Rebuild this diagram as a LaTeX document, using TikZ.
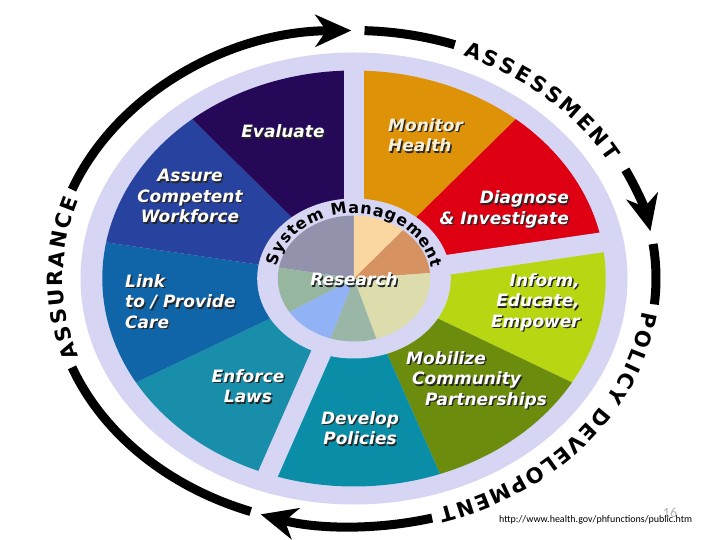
\documentclass[tikz,border=0pt]{standalone}
\usepackage{fontspec}
\setmainfont{DejaVu Sans}
\newfontfamily\urlfont{Carlito}
\usetikzlibrary{arrows.meta,decorations.text}

\definecolor{lavender}{RGB}{214,214,244}
\definecolor{evalc}{RGB}{38,8,88}
\definecolor{monitorc}{RGB}{222,146,8}
\definecolor{diagnosec}{RGB}{222,0,18}
\definecolor{informc}{RGB}{184,214,18}
\definecolor{mobilizec}{RGB}{108,140,14}
\definecolor{developc}{RGB}{10,142,168}
\definecolor{enforcec}{RGB}{24,142,170}
\definecolor{linkc}{RGB}{16,100,168}
\definecolor{assurec}{RGB}{40,66,160}
\definecolor{monitortext}{RGB}{250,240,215}
\definecolor{piepurple}{RGB}{146,146,172}
\definecolor{piepeach}{RGB}{250,214,160}
\definecolor{pieorange}{RGB}{214,146,96}
\definecolor{piecream}{RGB}{220,220,172}
\definecolor{piesage}{RGB}{154,182,166}
\definecolor{pieblue}{RGB}{146,178,246}
\definecolor{piesagetwo}{RGB}{150,182,160}

\newcommand{\shad}[1]{\makebox[0pt][l]{\kern1.4pt\raisebox{-1.4pt}{\textcolor{black!85}{#1}}}#1}
\newcommand{\ringsize}{\bfseries\fontsize{21}{21}\selectfont}
\newcommand{\hubsize}{\bfseries\fontsize{16}{16}\selectfont}

\begin{document}
\begin{tikzpicture}[x=1pt, y=1pt,
  wedgetext/.style={font=\fontsize{17}{20.5}\selectfont\bfseries\itshape, text=white, inner sep=0pt},
  gap/.style={lavender, line width=20pt},
  ring/.style={line width=9pt},
  ringarrow/.style={line width=9pt, -{Stealth[length=36pt, width=32pt, inset=11pt]}},
  ringtext/.style={decorate, decoration={text along path, text align={fit to path}, text={#1}}}]

\useasboundingbox [fill=white] (-354,-261.5) rectangle (366,278.5) ;

% wheel
\fill [lavender] (0,0) ellipse [x radius=273.5, y radius=226] ;

\fill [monitorc] (0,0) to (90:251.7 and 208) arc [start angle=90, end angle=50, x radius=251.7, y radius=208] to cycle ;
\fill [diagnosec] (0,0) to (50:251.7 and 208) arc [start angle=50, end angle=10, x radius=251.7, y radius=208] to cycle ;
\fill [informc] (0,0) to (10:251.7 and 208) arc [start angle=10, end angle=-30, x radius=251.7, y radius=208] to cycle ;
\fill [mobilizec] (0,0) to (-30:251.7 and 208) arc [start angle=-30, end angle=-70, x radius=251.7, y radius=208] to cycle ;
\fill [developc] (0,0) to (-70:251.7 and 208) arc [start angle=-70, end angle=-110, x radius=251.7, y radius=208] to cycle ;
\fill [enforcec] (0,0) to (250:251.7 and 208) arc [start angle=250, end angle=210, x radius=251.7, y radius=208] to cycle ;
\fill [linkc] (0,0) to (210:251.7 and 208) arc [start angle=210, end angle=170, x radius=251.7, y radius=208] to cycle ;
\fill [assurec] (0,0) to (170:251.7 and 208) arc [start angle=170, end angle=130, x radius=251.7, y radius=208] to cycle ;
\fill [evalc] (0,0) to (130:251.7 and 208) arc [start angle=130, end angle=90, x radius=251.7, y radius=208] to cycle ;

\draw [gap] (0,0) to (90:272 and 225) ;
\draw [gap] (0,0) to (10:272 and 225) ;
\draw [gap] (0,0) to (250:272 and 225) ;

% hub
\fill [lavender] (0,0) ellipse [x radius=96.8, y radius=80] ;

\fill [piepurple] (0,0) to (90:76.2 and 63) arc [start angle=90, end angle=170, x radius=76.2, y radius=63] to cycle ;
\fill [piepeach] (0,0) to (90:76.2 and 63) arc [start angle=90, end angle=50, x radius=76.2, y radius=63] to cycle ;
\fill [pieorange] (0,0) to (50:76.2 and 63) arc [start angle=50, end angle=5, x radius=76.2, y radius=63] to cycle ;
\fill [piecream] (0,0) to (5:76.2 and 63) arc [start angle=5, end angle=-73, x radius=76.2, y radius=63] to cycle ;
\fill [piesage] (0,0) to (-73:76.2 and 63) arc [start angle=-73, end angle=-108, x radius=76.2, y radius=63] to cycle ;
\fill [pieblue] (0,0) to (252:76.2 and 63) arc [start angle=252, end angle=212, x radius=76.2, y radius=63] to cycle ;
\fill [piesagetwo] (0,0) to (212:76.2 and 63) arc [start angle=212, end angle=170, x radius=76.2, y radius=63] to cycle ;

{\hubsize
\path [ringtext=System Management] (169:78.7 and 65) arc [start angle=169, end angle=9, x radius=78.7, y radius=65] ;
}

% outer cycle
\draw [ringarrow] (159:302 and 248) arc [start angle=159, end angle=90.5, x radius=302, y radius=248] ;
\draw [ring] (88:302 and 248) arc [start angle=88, end angle=70.5, x radius=302, y radius=248] ;
\draw [ringarrow] (26:302 and 248) arc [start angle=26, end angle=11, x radius=302, y radius=248] ;
\draw [ring] (8:302 and 248) arc [start angle=8, end angle=-6, x radius=302, y radius=248] ;
\draw [ringarrow] (-75:302 and 248) arc [start angle=-75, end angle=-108, x radius=302, y radius=248] ;
\draw [ring] (250:302 and 248) arc [start angle=250, end angle=201, x radius=302, y radius=248] ;

{\ringsize
\path [ringtext=ASSESSMENT] (68:291 and 240) arc [start angle=68, end angle=29, x radius=291, y radius=240] ;
\path [ringtext=POLICY DEVELOPMENT] (-8:291 and 240) arc [start angle=-8, end angle=-73, x radius=291, y radius=240] ;
\path [ringtext=ASSURANCE] (199:291 and 240) arc [start angle=199, end angle=161, x radius=291, y radius=240] ;
}

% labels
\node [wedgetext] (evaluate) at (-71,146.5) {\shad{Evaluate}} ;
\node [wedgetext, text=monitortext, anchor=west, align=left] (monitor) at (34,142.5) {\shad{Monitor}\\\shad{Health}} ;
\node [wedgetext, anchor=east, align=right] (diagnose) at (215,68.5) {\shad{Diagnose}\\\shad{\& Investigate}} ;
\node [wedgetext, anchor=east, align=right] (inform) at (226,-24.5) {\shad{Inform,}\\\shad{Educate,}\\\shad{Empower}} ;
\node [wedgetext, anchor=west, align=left] (mobilize) at (52,-102.5) {\shad{Mobilize}\\\hspace*{6pt}\shad{Community}\\\hspace*{19pt}\shad{Partnerships}} ;
\node [wedgetext, align=center] (develop) at (6,-150.5) {\shad{Develop}\\\shad{Policies}} ;
\node [wedgetext, align=center] (enforce) at (-106,-108.5) {\shad{Enforce}\\\shad{Laws}} ;
\node [wedgetext, anchor=west, align=left] (link) at (-229,-23.5) {\shad{Link}\\\shad{to / Provide}\\\shad{Care}} ;
\node [wedgetext, align=center] (assure) at (-164,81.5) {\shad{Assure}\\\shad{Competent}\\\shad{Workforce}} ;
\node [wedgetext] (research) at (0,-1.5) {\shad{Research}} ;

\node [font=\urlfont\fontsize{14}{14}\selectfont, text=black!30] (pagenum) at (316,-234.5) {16} ;
\node [font=\urlfont\fontsize{10}{12}\selectfont, anchor=west, inner sep=0pt] (url) at (145,-241.5) {http://www.health.gov/phfunctions/public.htm} ;

\end{tikzpicture}
\end{document}
